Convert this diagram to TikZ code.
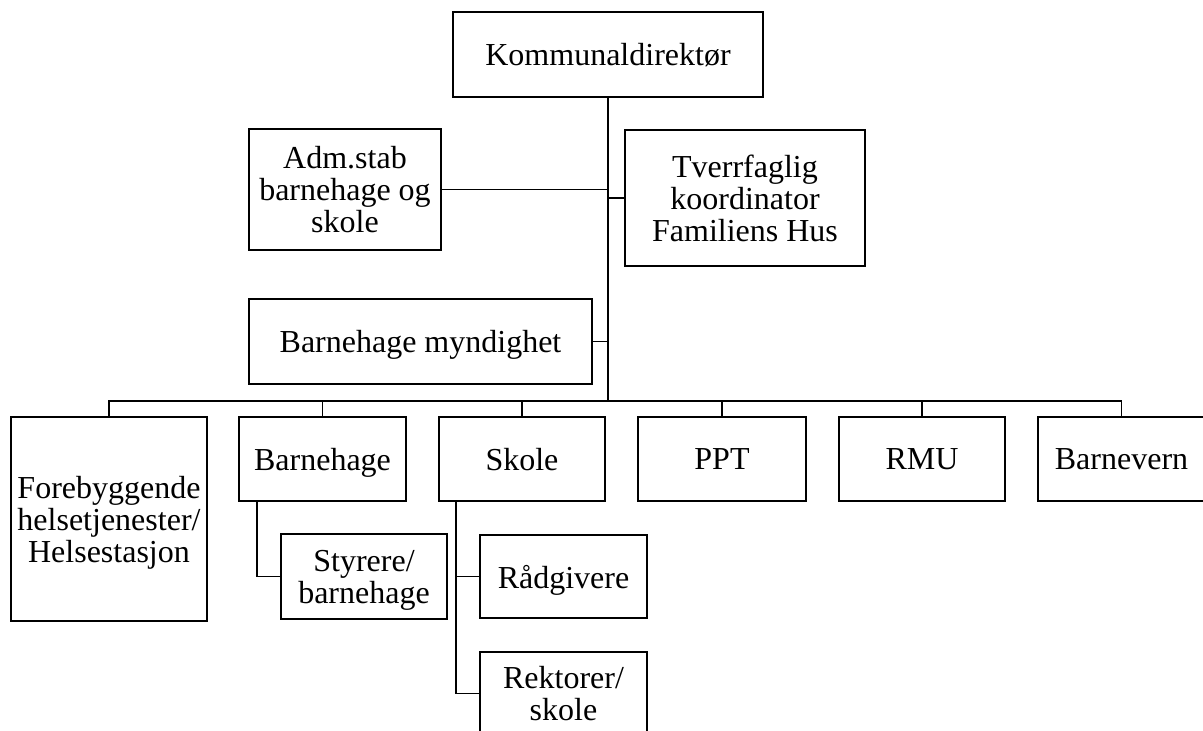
\documentclass[tikz,border=0pt]{standalone}
\usepackage{fontspec}
\setmainfont{Liberation Serif}
\begin{document}
\begin{tikzpicture}[x=1pt,y=-1pt,
  box/.style={draw, line width=1.4pt, align=center, inner sep=0pt, text depth=0pt, font=\fontsize{32}{32}\selectfont},
  link/.style={line width=1.5pt},
  trunk/.style={line width=2.2pt}]
\clip (0,0) rectangle (1203,731);
\useasboundingbox (0,0) rectangle (1203,731);
% boxes
\node[box, minimum width=310pt, minimum height=85pt] (kd) at (608,54.5) {Kommunaldirektør};
\node[box, minimum width=192pt, minimum height=121pt] (adm) at (345,189.5) {Adm.stab\\barnehage og\\skole};
\node[box, minimum width=240pt, minimum height=136pt] (tv) at (745,198) {Tverrfaglig\\koordinator\\Familiens Hus};
\node[box, minimum width=343pt, minimum height=85pt] (bm) at (420.5,341.5) {Barnehage myndighet};
\node[box, minimum width=196pt, minimum height=204pt] (fb) at (109,519) {Forebyggende\\helsetjenester/\\Helsestasjon};
\node[box, minimum width=167pt, minimum height=84pt] (bh) at (322.5,459) {Barnehage};
\node[box, minimum width=166pt, minimum height=85pt] (sty) at (364,576.5) {Styrere/\\barnehage};
\node[box, minimum width=166pt, minimum height=84pt] (sk) at (522,459) {Skole};
\node[box, minimum width=167pt, minimum height=83pt] (rad) at (563.5,576.5) {Rådgivere};
\node[box, minimum width=167pt, minimum height=83pt] (rek) at (563.5,693.5) {Rektorer/\\skole};
\node[box, minimum width=168pt, minimum height=84pt] (ppt) at (722,459) {PPT};
\node[box, minimum width=166pt, minimum height=84pt] (rmu) at (922,459) {RMU};
\node[box, minimum width=167pt, minimum height=84pt] (bv) at (1121.5,459) {Barnevern};
% bus coordinates
\coordinate (busL) at (108,401);
\coordinate (busR) at (1122,401);
\coordinate (busM) at (608,401);
% trunk
\draw[trunk] (kd.south) -- (busM);
\draw[link] (adm.east) -- (adm.east -| kd.south);
\draw[link] (tv.west) -- (tv.west -| kd.south);
\draw[link] (bm.east) -- (bm.east -| kd.south);
% bus
\draw[link] (busL) -- (busR);
\foreach \n in {fb,bh,sk,ppt,rmu,bv}{
  \draw[link] (\n.north) -- (\n.north |- busL);
}
% Barnehage children
\coordinate (bhx) at (257,501);
\draw[link] (bh.south -| bhx) |- (sty.west);
% Skole children
\coordinate (skx) at (456,501);
\draw[link] (sk.south -| skx) |- (rek.west);
\draw[link] (rad.west) -- (rad.west -| skx);
\end{tikzpicture}
\end{document}
